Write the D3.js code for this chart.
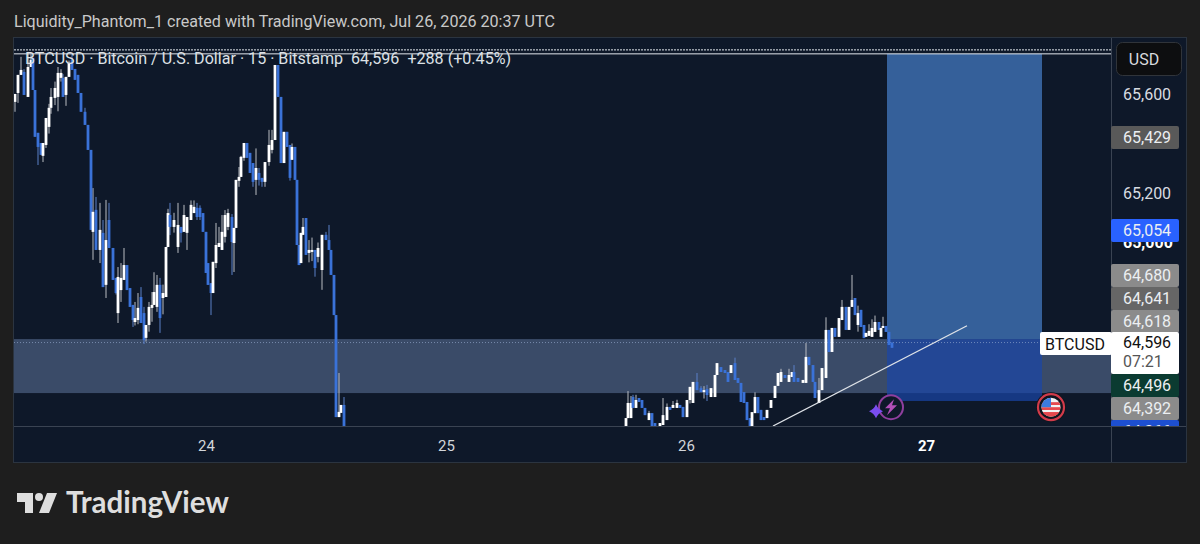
<!DOCTYPE html>
<html>
<head>
<meta charset="utf-8">
<script src="https://cdn.jsdelivr.net/npm/d3@7"></script>
<style>
  html, body { margin: 0; background: #1e1e1e; overflow: hidden; }
  svg { display: block; }
  text { font-family: Roboto, sans-serif; }
  .tick text { font-family: Roboto, sans-serif; }
</style>
</head>
<body>
<svg width="1200" height="544"></svg>
<script>
// --- Candles ---
// hour after Jul 24 00:00, open, close, then high and low when a wick shows
const candlesJul23 = [
  [-19.1,65568,65600,65600,65528],[-18.8,65604,65677,65677,65564],[-18.5,65677,65697,65750,65677],
  [-18.2,65689,65596,65700,65596],[-17.8,65588,65709,65770,65588],[-17.5,65709,65738,65760,65709],
  [-17.3,65746,65616],[-17.1,65616,65427],[-16.8,65443,65386,65443,65313],[-16.5,65402,65354],
  [-16.3,65350,65402,65402,65325],[-16,65394,65503,65503,65382],[-15.7,65467,65544,65560,65440],
  [-15.5,65544,65588,65624,65520],[-15.1,65584,65624,65650,65555],[-14.8,65588,65685,65709,65530],
  [-14.5,65665,65685,65700,65650],[-14.3,65665,65588,65680,65588],[-14,65596,65669,65669,65552],
  [-13.7,65669,65725,65735,65669],[-13.4,65738,65697,65760,65697],[-13.1,65701,65657],
  [-12.8,65677,65604],[-12.5,65604,65528],[-12.1,65528,65475,65544,65475],[-11.8,65475,65374],
  [-11.5,65374,65051],[-11.3,65043,65124,65220,64930],[-11,65132,64970,65184,64970],
  [-10.6,64970,65051,65160,64917],[-10.3,65039,64820,65091,64820],[-10,64829,65010,65172,64776],
  [-9.7,65091,64978,65160,64978],[-9.3,64978,64849],[-9,64857,64796,64857,64790],
  [-8.8,64715,64861,64901,64675],[-8.5,64808,64857,64917,64760],[-8.2,64849,64909,64978,64849],
  [-7.9,64909,64808],[-7.6,64816,64740],[-7.3,64748,64687,64748,64659],[-7.1,64679,64695,64760,64665],
  [-6.8,64687,64736,64796,64670],[-6.5,64780,64675,64820,64675],[-6.2,64715,64606,64740,64590],
  [-6,64615,64667,64667,64600],[-5.7,64667,64740,64760,64640],[-5.4,64736,64748,64800,64680],
  [-5.2,64748,64800,64880,64748],[-4.9,64740,64829,64869,64720],[-4.6,64829,64695,64857,64635],
  [-4.3,64776,64796,64830,64710],[-4,64780,64982],[-3.8,64982,65119,65136,64982],
  [-3.6,65111,65063,65160,65030],[-3.2,65063,65091,65120,65040],[-2.8,64982,65071,65160,64958],
  [-2.5,65063,65039,65063,65000],[-2.2,65043,65111,65152,65043],[-1.9,65039,65103,65103,64970],
  [-1.5,65091,65152,65170,65091],[-1.2,65119,65144,65170,65119],[-0.9,65140,65103,65160,65091],
  [-0.6,65140,65103,65150,65091],[-0.3,65119,65043]
];
const candlesJul24 = [
  [0,65043,64877],[0.2,64917,64829],[0.5,64836,64796,64836,64707],[0.7,64796,64922],
  [1,64917,64990,65079,64897],[1.3,64982,64998,65063,64982],[1.6,64970,65043,65111,64970],
  [1.9,65023,65111,65131,65000],[2.2,65063,65119,65136,65050],[2.6,65103,65002,65115,64869],
  [2.8,64998,65059,65059,64881],[3,65059,65253],[3.3,65249,65265,65305,65225],[3.5,65265,65346,65350,65265],
  [3.8,65342,65402,65402,65330],[4.1,65402,65342],[4.4,65362,65281],[4.7,65321,65245,65321,65225],
  [5,65253,65301,65380,65192],[5.3,65281,65253,65301,65230],[5.6,65261,65245,65261,65225],
  [5.9,65245,65325,65325,65225],[6.3,65325,65394,65455,65310],[6.6,65374,65414,65455,65360],
  [6.9,65414,65717],[7.2,65717,65588],[7.5,65588,65321],[7.8,65321,65447],[8.1,65447,65386],
  [8.4,65394,65261,65394,65250],[8.6,65334,65386,65400,65334],[8.9,65386,65253],[9.1,65253,64990],
  [9.3,64990,64909],[9.5,64917,65039],[9.7,65031,65063,65099,65031],[10,65099,64950],
  [10.3,64958,64970,65010,64920],[10.6,64962,64970,65020,64925],[10.9,64970,64897,64970,64862],
  [11.2,64942,64978,65000,64920],[11.6,64889,65031,65031,64809],[12,65031,65010,65043,65010],
  [12.3,65010,64970,65071,64970],[12.5,64970,64869],[12.8,64869,64707],[13,64707,64295],
  [13.3,64295,64316,64473,64295],[13.5,64312,64344],[13.8,64344,64255,64376,64255]
];
const candlesJul25 = [
  [42,64259,64291],[42.2,64291,64352,64400,64291],[42.5,64291,64352,64380,64291],[42.7,64376,64332,64385,64332],
  [43,64332,64364,64385,64332],[43.3,64372,64356],[43.6,64364,64332],[43.9,64332,64303],
  [44.3,64283,64311,64320,64283],[44.6,64311,64259],[44.9,64271,64259],[45.4,64259,64271],
  [45.7,64263,64303,64372,64263],[46.1,64283,64336,64350,64283],[46.4,64336,64324],
  [46.7,64332,64344,64360,64332],[47.1,64332,64352,64365,64332],[47.4,64344,64332],[47.7,64336,64295]
];
const candlesJul26 = [
  [48.1,64295,64364],[48.4,64364,64417,64417,64350],[48.7,64352,64437],[49.1,64437,64404,64473,64404],
  [49.5,64412,64396,64420,64396],[49.8,64396,64404,64420,64370],[50.1,64408,64384,64425,64360],
  [50.5,64376,64412],[50.9,64376,64465],[51.1,64465,64513],[51.5,64497,64477],[51.9,64485,64473],
  [52.2,64477,64437],[52.5,64473,64505],[52.9,64513,64445,64535,64445],[53.2,64453,64433],
  [53.5,64433,64356],[53.8,64396,64352],[54.1,64356,64283],[54.4,64291,64259],[54.6,64259,64315],
  [54.9,64311,64376,64395,64311],[55.2,64376,64311],[55.5,64324,64283],[55.8,64295,64283],
  [56.1,64291,64324],[56.5,64332,64364],[56.9,64372,64421],[57.2,64421,64473],
  [57.5,64437,64477,64490,64437],[57.9,64465,64453],[58.3,64437,64465,64490,64437],[58.6,64457,64477],
  [58.8,64477,64437,64505,64437],[59.2,64453,64437],[59.7,64433,64445],[60,64433,64538,64594,64433],
  [60.3,64538,64505],[60.7,64505,64437],[60.9,64437,64372],[61.3,64352,64404,64453,64352],
  [61.6,64404,64493],[62,64453,64647,64698,64453],[62.3,64647,64558],[62.6,64558,64655],
  [62.9,64655,64619],[63.3,64619,64695],[63.6,64687,64740,64768,64687],[64,64740,64647],
  [64.3,64647,64740],[64.6,64740,64768,64869,64740],[64.9,64776,64707],[65.2,64667,64715,64745,64640],
  [65.5,64728,64659],[65.8,64667,64614],[66,64619,64635],[66.3,64623,64643,64670,64623],
  [66.6,64619,64655,64690,64619],[66.9,64639,64679,64705,64639],[67.3,64679,64647],[67.5,64619,64655],
  [67.7,64655,64663,64700,64655],[68,64663,64639],[68.3,64639,64586],[68.6,64596,64575]
];
const candles = [...candlesJul23, ...candlesJul24, ...candlesJul25, ...candlesJul26];

// --- Axes ---
const hourTicks = [0, 24, 48, 72];
const dayLabels = ["24", "25", "26", "27"];
const priceTicks = [65600, 65200, 65000];

// --- Drawings on the chart ---
const zonePrices = [64610, 64392];
const positionHours = [68.1, 83.6];
const positionPrices = [65762, 64610, 64360];
const topLinePrices = [65778, 65762];
const trendHours = [56.7, 76.1];
const trendPrices = [64259, 64664];
const lastPrice = 64596;
const eventHours = [68.5, 84.5];
const eventPrice = 64335;

// --- Price tags on the right ---
const tagValues = [65429, 65054, 64680, 64641, 64618, 64496, 64392, 64366];

// --- Layout ---
const PANE = { left: 14, right: 1111, top: 38, bottom: 426 };
const AXIS_RIGHT = 1186, AXIS_BOTTOM = 462;
const TAG_WIDTH = 68, TAG_HEIGHT = 23;
const tagTops = [126, 219, 264, 287, 310, 374, 397, 420];
const tagFills = ["#595959", "#2962ff", "#8b8b8b", "#666666", "#8b8b8b", "#0b3b31", "#8b8b8b", "#1d4fd0"];
const UP = "#ffffff", DOWN = "#3a72d8";

const svg = d3.select("svg");
const x = d3.scaleLinear().domain([-19.2, 90.5]).range([PANE.left, PANE.right]);
const y = d3.scaleLinear().domain([64259, 65826]).range([PANE.bottom, PANE.top]);

// frame and pane
svg.append("rect").attr("x", 13.5).attr("y", 37.5).attr("width", AXIS_RIGHT - 13).attr("height", AXIS_BOTTOM - 37)
  .attr("fill", "#0e1829").attr("stroke", "#2b3440");

svg.append("defs").append("clipPath").attr("id", "pane")
  .append("rect").attr("x", PANE.left).attr("y", PANE.top)
  .attr("width", PANE.right - PANE.left).attr("height", PANE.bottom - PANE.top);
d3.select("defs").append("clipPath").attr("id", "tags")
  .append("rect").attr("x", PANE.right).attr("y", PANE.top)
  .attr("width", AXIS_RIGHT - PANE.right).attr("height", PANE.bottom - PANE.top);
d3.select("defs").append("clipPath").attr("id", "flag")
  .append("circle").attr("r", 9.5);

const chart = svg.append("g").attr("clip-path", "url(#pane)");

// demand zone and long position
chart.append("rect")
  .attr("x", PANE.left).attr("width", PANE.right - PANE.left)
  .attr("y", y(zonePrices[0])).attr("height", y(zonePrices[1]) - y(zonePrices[0]))
  .attr("fill", "#3a4b68");
chart.append("rect")
  .attr("x", x(positionHours[0])).attr("width", x(positionHours[1]) - x(positionHours[0]))
  .attr("y", y(positionPrices[0])).attr("height", y(positionPrices[1]) - y(positionPrices[0]))
  .attr("fill", "#35609a");
chart.append("rect")
  .attr("x", x(positionHours[0])).attr("width", x(positionHours[1]) - x(positionHours[0]))
  .attr("y", y(positionPrices[1])).attr("height", y(positionPrices[2]) - y(positionPrices[1]))
  .attr("fill", "#1a46a8").attr("fill-opacity", 0.7);

// last price line
chart.append("line")
  .attr("x1", PANE.left).attr("x2", PANE.right).attr("y1", y(lastPrice)).attr("y2", y(lastPrice))
  .attr("stroke", "#9fb4d6").attr("stroke-opacity", 0.6).attr("stroke-dasharray", "1 2");

// candles
chart.selectAll(".wick").data(candles).join("line")
  .attr("class", "wick")
  .attr("x1", d => x(d[0])).attr("x2", d => x(d[0]))
  .attr("y1", d => y(d[3] ?? Math.max(d[1], d[2])))
  .attr("y2", d => y(d[4] ?? Math.min(d[1], d[2])))
  .attr("stroke", d => d[2] >= d[1] ? "#b9bcc2" : "#5a80c8")
  .attr("stroke-width", 1);
chart.selectAll(".body").data(candles).join("rect")
  .attr("class", "body")
  .attr("x", d => x(d[0]) - 1.4).attr("width", 2.8)
  .attr("y", d => y(Math.max(d[1], d[2])))
  .attr("height", d => Math.max(1, Math.abs(y(d[1]) - y(d[2]))))
  .attr("fill", d => d[2] >= d[1] ? UP : DOWN);

// top lines and trend line
topLinePrices.forEach((p, i) => {
  chart.append("line")
    .attr("x1", PANE.left).attr("x2", PANE.right).attr("y1", y(p)).attr("y2", y(p))
    .attr("stroke", "#e4e8ee").attr("stroke-width", 1)
    .attr("stroke-dasharray", i === 0 ? "2 1" : null);
});
chart.append("line")
  .attr("x1", x(trendHours[0])).attr("y1", y(trendPrices[0]))
  .attr("x2", x(trendHours[1])).attr("y2", y(trendPrices[1]))
  .attr("stroke", "#dfe3e8").attr("stroke-width", 1.3);

// pane edges
svg.append("line").attr("x1", PANE.left).attr("x2", AXIS_RIGHT).attr("y1", 426.5).attr("y2", 426.5).attr("stroke", "#3a4352");
svg.append("line").attr("x1", 1111.5).attr("x2", 1111.5).attr("y1", 38).attr("y2", AXIS_BOTTOM).attr("stroke", "#3a4352");

// axes
const yAxis = d3.axisRight(y).tickValues(priceTicks).tickSize(0).tickPadding(12).tickFormat(d3.format(","));
const yG = svg.append("g").attr("transform", `translate(${PANE.right},0)`).call(yAxis);
yG.select(".domain").remove();
yG.selectAll("text").attr("fill", "#d9dce1").style("font-size", "16px");
yG.selectAll(".tick").filter(d => d === 65000).select("text").attr("fill", "#ffffff").style("font-weight", 700);

const xAxis = d3.axisBottom(x).tickValues(hourTicks).tickSize(0).tickPadding(14).tickFormat((d, i) => dayLabels[i]);
const xG = svg.append("g").attr("transform", `translate(0,${PANE.bottom})`).call(xAxis);
xG.select(".domain").remove();
xG.selectAll("text").attr("fill", "#d2d5da").style("font-size", "15px");
xG.selectAll(".tick").filter(d => d === 72).select("text").attr("fill", "#ffffff").style("font-weight", 700);

// event badges
const bolt = svg.append("g").attr("transform", `translate(${x(eventHours[0])},${y(eventPrice)})`);
bolt.append("circle").attr("r", 12).attr("fill", "#0e1829").attr("stroke", "#8f3f9e").attr("stroke-width", 2);
bolt.append("path").attr("d", "M3,-8 L-6,1 L-1,1 L-4,8 L6,-2 L1,-2 Z").attr("fill", "#b14fb8");
bolt.append("path").attr("d", "M-15,-3 Q-13,2 -8,4 Q-13,6 -15,11 Q-17,6 -22,4 Q-17,2 -15,-3 Z").attr("fill", "#7a4df0");

const flag = svg.append("g").attr("transform", `translate(${x(eventHours[1])},${y(eventPrice)})`);
flag.append("circle").attr("r", 15).attr("fill", "#10151f");
flag.append("circle").attr("r", 13).attr("fill", "#10151f").attr("stroke", "#d23b4a").attr("stroke-width", 2.2);
const flagInner = flag.append("g").attr("clip-path", "url(#flag)");
flagInner.append("rect").attr("x", -10).attr("y", -10).attr("width", 20).attr("height", 20).attr("fill", "#f2f2f2");
[-6, -1, 4].forEach(s => flagInner.append("rect").attr("x", -10).attr("y", s + 1).attr("width", 20).attr("height", 2.8).attr("fill", "#e5484d"));
flagInner.append("rect").attr("x", -10).attr("y", 5).attr("width", 20).attr("height", 5).attr("fill", "#e5484d");
flagInner.append("rect").attr("x", -10).attr("y", -10).attr("width", 10).attr("height", 10).attr("fill", "#3d7be0");

// price tags
const tags = svg.append("g").attr("clip-path", "url(#tags)");
tagValues.forEach((v, i) => {
  tags.append("rect").attr("x", PANE.right).attr("y", tagTops[i]).attr("width", TAG_WIDTH).attr("height", TAG_HEIGHT)
    .attr("rx", 2).attr("fill", tagFills[i]);
  tags.append("text").attr("x", PANE.right + 12).attr("y", tagTops[i] + 17)
    .attr("fill", "#eceff2").style("font-size", "16px").text(d3.format(",")(v));
});

// last price tag and symbol label
svg.append("rect").attr("x", PANE.right).attr("y", 332).attr("width", TAG_WIDTH).attr("height", 42).attr("rx", 2).attr("fill", "#fff");
svg.append("text").attr("x", PANE.right + 12).attr("y", 348).attr("fill", "#111").style("font-size", "16px").text(d3.format(",")(lastPrice));
svg.append("text").attr("x", PANE.right + 12).attr("y", 367).attr("fill", "#555").style("font-size", "16px").text("07:21");
svg.append("rect").attr("x", 1040).attr("y", 332).attr("width", 72).attr("height", 23).attr("rx", 2).attr("fill", "#fff");
svg.append("text").attr("x", 1045).attr("y", 350).attr("fill", "#111").style("font-size", "16px").text("BTCUSD");

// currency button
svg.append("rect").attr("x", 1116.5).attr("y", 42.5).attr("width", 65).attr("height", 33).attr("rx", 6)
  .attr("fill", "#0d0e10").attr("stroke", "#30343a");
svg.append("text").attr("x", 1144).attr("y", 65).attr("text-anchor", "middle").attr("fill", "#d8dade").style("font-size", "16px").text("USD");

// header and legend
svg.append("text").attr("x", 14).attr("y", 27).attr("fill", "#c9c9c9").style("font-size", "16.1px")
  .text("Liquidity_Phantom_1 created with TradingView.com, Jul 26, 2026 20:37 UTC");
svg.append("text").attr("x", 25).attr("y", 64).attr("fill", "#dde1e6").style("font-size", "16.1px")
  .attr("xml:space", "preserve")
  .text("BTCUSD · Bitcoin / U.S. Dollar · 15 · Bitstamp  64,596  +288 (+0.45%)");

// logo
const logo = svg.append("g").attr("fill", "#dedede");
logo.append("path").attr("d", "M17,493 H33 V513 H25 V502 H17 Z");
logo.append("circle").attr("cx", 39).attr("cy", 497).attr("r", 4);
logo.append("path").attr("d", "M47,493 H57 L49,513 H39 Z");
logo.append("text").attr("x", 66).attr("y", 513).attr("fill", "#dedede")
  .style("font-family", "Lato, sans-serif").style("font-weight", 700).style("font-size", "29.5px").text("TradingView");
</script>
</body>
</html>
